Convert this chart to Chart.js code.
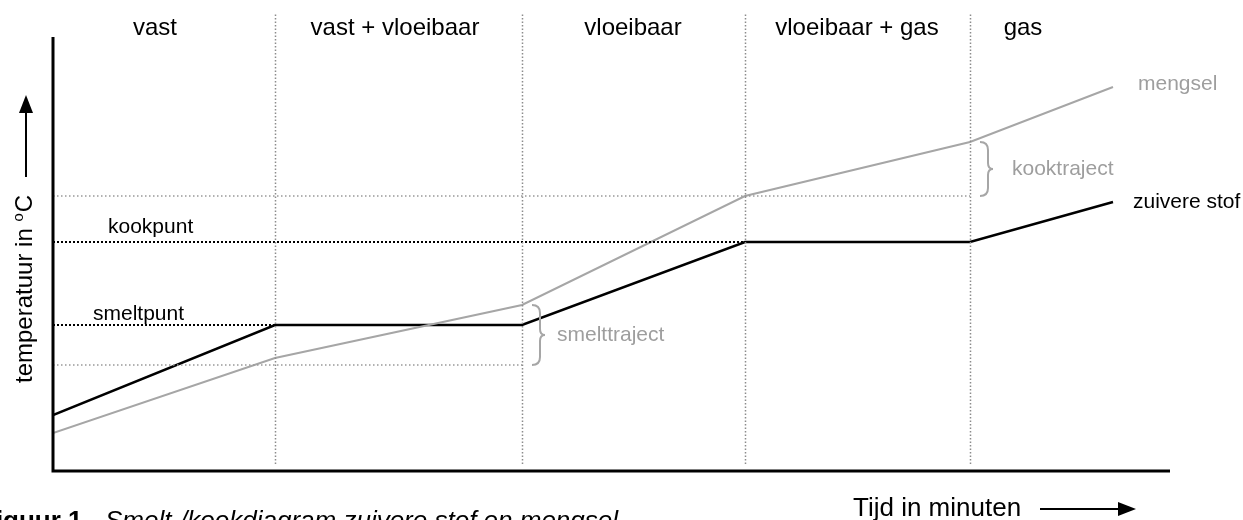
<!DOCTYPE html>
<html>
<head>
<meta charset="utf-8">
<script src="https://cdn.jsdelivr.net/npm/chart.js@4.4.1/dist/chart.umd.min.js"></script>
<style>
  body { margin: 0; background: #fff; }
  canvas { display: block; }
</style>
</head>
<body>
<canvas id="smeltChart" width="1243" height="520"></canvas>
<script>
// fasen en grenzen (tijd in minuten)
const phases = ["vast", "vast + vloeibaar", "vloeibaar", "vloeibaar + gas", "gas"];
const phaseBounds = [4.44, 9.38, 13.84, 18.34];
const phaseLabelAt = [2.04, 6.84, 11.6, 16.08, 19.4];

// meetpunten
const tijd = [0, 4.44, 9.38, 13.84, 18.34, 21.2];
const zuivereStof = [5.6, 14.6, 14.6, 22.9, 22.9, 26.9];
const mengsel = [3.8, 11.3, 16.6, 27.5, 32.9, 38.4];

// hulplijnen
const smeltpunt = 14.6;
const kookpunt = 22.9;
const smeltTraject = [10.6, 16.6];
const kookTraject = [27.5, 32.9];

const BLACK = "#000";
const GREY = "#a6a6a6";
const GREY_TEXT = "#9e9e9e";
const FONT = "'Liberation Sans', Arial, sans-serif";

const pts = (xs, ys) => xs.map((x, i) => ({ x: x, y: ys[i] }));
const hline = (y, xEnd) => [{ x: 0, y: y }, { x: xEnd, y: y }];

// accolade, punt naar rechts
function brace(ctx, x, yTop, yBot) {
  const mid = (yTop + yBot) / 2;
  ctx.beginPath();
  ctx.moveTo(x, yTop);
  ctx.quadraticCurveTo(x + 8, yTop, x + 8, yTop + 8);
  ctx.lineTo(x + 8, mid - 6);
  ctx.quadraticCurveTo(x + 8, mid, x + 13, mid);
  ctx.quadraticCurveTo(x + 8, mid, x + 8, mid + 6);
  ctx.lineTo(x + 8, yBot - 8);
  ctx.quadraticCurveTo(x + 8, yBot, x, yBot);
  ctx.stroke();
}

const decor = {
  id: "decor",
  afterDatasetsDraw(chart) {
    const { ctx, chartArea: a, scales: { x, y } } = chart;
    ctx.save();

    // fasegrenzen
    ctx.strokeStyle = "#8c8c8c";
    ctx.lineWidth = 1.5;
    ctx.setLineDash([1.5, 2]);
    phaseBounds.forEach(b => {
      const px = Math.round(x.getPixelForValue(b)) + 0.5;
      ctx.beginPath();
      ctx.moveTo(px, a.bottom - 7);
      ctx.lineTo(px, a.top - 23);
      ctx.stroke();
    });
    ctx.setLineDash([]);

    // assen
    ctx.strokeStyle = BLACK;
    ctx.lineWidth = 3;
    ctx.beginPath();
    ctx.moveTo(a.left, a.top);
    ctx.lineTo(a.left, a.bottom);
    ctx.lineTo(a.right, a.bottom);
    ctx.stroke();

    // fasenamen
    ctx.fillStyle = BLACK;
    ctx.font = "24px " + FONT;
    ctx.textAlign = "center";
    ctx.textBaseline = "alphabetic";
    phases.forEach((p, i) => ctx.fillText(p, x.getPixelForValue(phaseLabelAt[i]), 35));

    // smeltpunt / kookpunt
    ctx.font = "21px " + FONT;
    ctx.textAlign = "left";
    ctx.fillText("kookpunt", 108, y.getPixelForValue(kookpunt) - 9);
    ctx.fillText("smeltpunt", 93, y.getPixelForValue(smeltpunt) - 5);

    // reeksnamen
    ctx.textBaseline = "middle";
    const last = tijd.length - 1;
    ctx.fillText("zuivere stof", x.getPixelForValue(tijd[last]) + 20, y.getPixelForValue(zuivereStof[last]));
    ctx.fillStyle = GREY_TEXT;
    ctx.fillText("mengsel", x.getPixelForValue(tijd[last]) + 25, y.getPixelForValue(mengsel[last]) - 3);

    // trajecten
    ctx.strokeStyle = GREY;
    ctx.lineWidth = 2;
    const bx1 = x.getPixelForValue(phaseBounds[1]) + 10;
    const s0 = y.getPixelForValue(smeltTraject[1]), s1 = y.getPixelForValue(smeltTraject[0]);
    brace(ctx, bx1, s0, s1);
    ctx.fillText("smelttraject", bx1 + 25, (s0 + s1) / 2);
    const bx2 = x.getPixelForValue(phaseBounds[3]) + 10;
    const k0 = y.getPixelForValue(kookTraject[1]), k1 = y.getPixelForValue(kookTraject[0]);
    brace(ctx, bx2, k0, k1);
    ctx.fillText("kooktraject", bx2 + 32, (k0 + k1) / 2);

    // y-as titel met pijl
    ctx.fillStyle = BLACK;
    ctx.strokeStyle = BLACK;
    ctx.save();
    ctx.translate(32, 383);
    ctx.rotate(-Math.PI / 2);
    ctx.textAlign = "left";
    ctx.textBaseline = "alphabetic";
    ctx.font = "24px " + FONT;
    const t1 = "temperatuur in ";
    ctx.fillText(t1, 0, 0);
    let w = ctx.measureText(t1).width;
    ctx.font = "15px " + FONT;
    ctx.fillText("o", w, -9);
    w += ctx.measureText("o").width + 1;
    ctx.font = "24px " + FONT;
    ctx.fillText("C", w, 0);
    ctx.restore();

    ctx.lineWidth = 2;
    ctx.beginPath();
    ctx.moveTo(26, 177);
    ctx.lineTo(26, 108);
    ctx.stroke();
    ctx.beginPath();
    ctx.moveTo(26, 95);
    ctx.lineTo(33, 113);
    ctx.lineTo(19, 113);
    ctx.closePath();
    ctx.fill();

    // x-as titel met pijl
    ctx.font = "26px " + FONT;
    ctx.textAlign = "left";
    ctx.textBaseline = "alphabetic";
    ctx.fillText("Tijd in minuten", 853, 516);
    ctx.beginPath();
    ctx.moveTo(1040, 509);
    ctx.lineTo(1122, 509);
    ctx.stroke();
    ctx.beginPath();
    ctx.moveTo(1136, 509);
    ctx.lineTo(1118, 502);
    ctx.lineTo(1118, 516);
    ctx.closePath();
    ctx.fill();

    // onderschrift
    ctx.font = "bold 26px " + FONT;
    ctx.fillText("Figuur 1", -20, 529);
    ctx.font = "italic 26px " + FONT;
    ctx.fillText("Smelt-/kookdiagram zuivere stof en mengsel", 105, 529);

    ctx.restore();
  }
};

new Chart(document.getElementById("smeltChart"), {
  type: "line",
  data: {
    datasets: [
      { label: "smeltpunt", data: hline(smeltpunt, phaseBounds[0]), borderColor: BLACK, borderWidth: 2, borderDash: [2, 2] },
      { label: "kookpunt", data: hline(kookpunt, phaseBounds[2]), borderColor: BLACK, borderWidth: 2, borderDash: [2, 2] },
      { label: "smelttraject onder", data: hline(smeltTraject[0], phaseBounds[1]), borderColor: "#999", borderWidth: 1.5, borderDash: [1.5, 2.5] },
      { label: "kooktraject onder", data: hline(kookTraject[0], phaseBounds[3]), borderColor: "#999", borderWidth: 1.5, borderDash: [1.5, 2.5] },
      { label: "mengsel", data: pts(tijd, mengsel), borderColor: GREY, borderWidth: 2 },
      { label: "zuivere stof", data: pts(tijd, zuivereStof), borderColor: BLACK, borderWidth: 2.5 }
    ]
  },
  options: {
    responsive: false,
    animation: false,
    elements: { point: { radius: 0 }, line: { tension: 0, fill: false } },
    layout: { padding: { left: 53, right: 73, top: 37, bottom: 49 } },
    plugins: { legend: { display: false }, tooltip: { enabled: false } },
    scales: {
      x: { type: "linear", min: 0, max: 22.34, display: false },
      y: { type: "linear", min: 0, max: 43.4, display: false }
    }
  },
  plugins: [decor]
});
</script>
</body>
</html>
